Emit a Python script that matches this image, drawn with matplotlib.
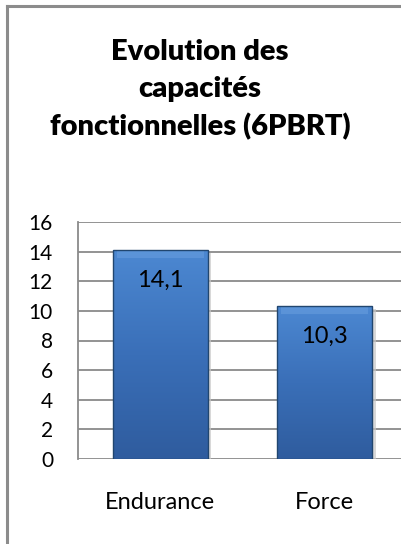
import numpy as np
import matplotlib
matplotlib.use("Agg")
import matplotlib.pyplot as plt
from matplotlib.colors import LinearSegmentedColormap

# data
categories = ["Endurance", "Force"]
values = [14.1, 10.3]
value_labels = ["14,1", "10,3"]
yticks = [0, 2, 4, 6, 8, 10, 12, 14, 16]
title = "Evolution des\ncapacités\nfonctionnelles (6PBRT)"

plt.rcParams['font.family'] = ['Lato', 'DejaVu Sans']

fig = plt.figure(figsize=(4.01, 5.44), dpi=100)

# outer frame (left and top lines only visible in crop)
fig.add_artist(plt.Line2D([7 / 401, 7 / 401], [0, 1 - 6 / 544], color="#8c8c8c", lw=2.2))
fig.add_artist(plt.Line2D([7 / 401, 1], [1 - 6 / 544, 1 - 6 / 544], color="#8c8c8c", lw=2.2))

fig.text(200 / 401, 1 - 90 / 544, title, ha="center", va="center",
         fontsize=21, fontweight="heavy", linespacing=1.5)

ax = fig.add_axes([78 / 401, 85 / 544, 329 / 401, 237 / 544])
ax.set_xlim(-0.5, 1.5)
ax.set_ylim(0, 16)

for y in yticks:
    ax.axhline(y, color="#8a8a8a", lw=1.3, zorder=1)
for s in ["top", "right", "bottom"]:
    ax.spines[s].set_visible(False)
ax.spines["left"].set_color("#8a8a8a")
ax.spines["left"].set_linewidth(1.3)

ax.set_yticks(yticks)
ax.set_yticklabels([str(t) for t in yticks], fontsize=15)
ax.set_xticks(range(len(categories)))
ax.set_xticklabels(categories, fontsize=17)
ax.tick_params(axis="y", length=0, pad=18)
ax.tick_params(axis="x", length=0, pad=24)

cmap = LinearSegmentedColormap.from_list("barblue", ["#2f5c9e", "#3a6fb8", "#4c88d2"])
grad = np.linspace(0, 1, 256).reshape(-1, 1)
width = 0.58
for i, v in enumerate(values):
    x0 = i - width / 2
    # soft shadow
    ax.bar(i + 0.02, v, width=width, bottom=-0.18, color="#c8c8c8", alpha=0.7, zorder=2)
    bar = ax.bar(i, v, width=width, color="none", edgecolor="#21466f", lw=1.0, zorder=5)[0]
    im = ax.imshow(grad, cmap=cmap, origin="lower", aspect="auto",
                   extent=[x0, x0 + width, 0, v], zorder=3)
    im.set_clip_path(bar)
    # bevel highlight at the top of the bar
    ax.bar(i, 0.45, width=width - 0.05, bottom=v - 0.5, color="#6a9fdf", alpha=0.55,
           lw=0, zorder=4)
    ax.annotate(value_labels[i], (i, v), xytext=(0, -21.5), textcoords="offset points",
                ha="center", va="center", fontsize=17)

ax.set_xlim(-0.5, 1.5)
ax.set_ylim(0, 16)

fig.savefig("out.png", dpi=100)
